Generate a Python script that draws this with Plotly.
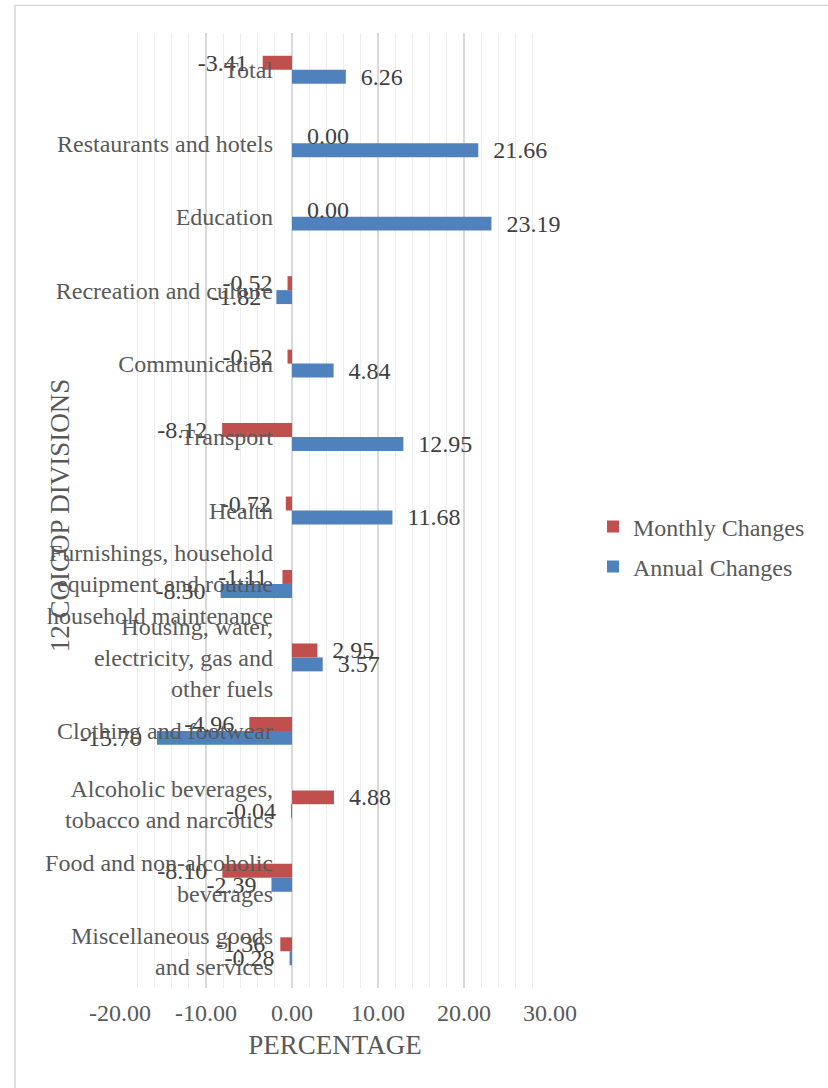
import plotly.graph_objects as go

# Categories listed bottom-to-top as they appear on the chart
categories = [
    "Miscellaneous goods<br>and services",
    "Food and non-alcoholic<br>beverages",
    "Alcoholic beverages,<br>tobacco and narcotics",
    "Clothing and footwear",
    "Housing, water,<br>electricity, gas and<br>other fuels",
    "Furnishings, household<br>equipment and routine<br>household maintenance",
    "Health",
    "Transport",
    "Communication",
    "Recreation and culture",
    "Education",
    "Restaurants and hotels",
    "Total",
]
monthly_changes = [-1.36, -8.10, 4.88, -4.96, 2.95, -1.11, -0.72, -8.12, -0.52, -0.52, 0.00, 0.00, -3.41]
annual_changes = [-0.28, -2.39, -0.04, -15.70, 3.57, -8.30, 11.68, 12.95, 4.84, -1.82, 23.19, 21.66, 6.26]
x_tick_values = [-20, -10, 0, 10, 20, 30]
x_tick_labels = ["-20.00", "-10.00", "0.00", "10.00", "20.00", "30.00"]

RED = "#C0504D"
BLUE = "#4F81BD"
FONT = "Liberation Serif"
PAD = "\u00a0\u00a0"


def label_texts(vals):
    return [f"{PAD}{v:.2f}" if v >= 0 else f"{v:.2f}{PAD}" for v in vals]


fig = go.Figure()
fig.add_trace(go.Bar(
    name="Annual Changes", y=categories, x=annual_changes, orientation="h",
    marker=dict(color=BLUE, line=dict(width=0)),
    text=label_texts(annual_changes), texttemplate="%{text}", textposition="outside",
    outsidetextfont=dict(family=FONT, size=24, color="#404040"),
    constraintext="none", cliponaxis=False, legendgroup="a", legendrank=2,
))
fig.add_trace(go.Bar(
    name="Monthly Changes", y=categories, x=monthly_changes, orientation="h",
    marker=dict(color=RED, line=dict(width=0)),
    text=label_texts(monthly_changes), texttemplate="%{text}", textposition="outside",
    outsidetextfont=dict(family=FONT, size=24, color="#404040"),
    constraintext="none", cliponaxis=False, legendgroup="m", legendrank=1,
))

fig.update_layout(
    width=828, height=1088, autosize=False,
    margin=dict(l=120, r=278, t=33, b=100, autoexpand=False),
    paper_bgcolor="white", plot_bgcolor="white",
    font=dict(family=FONT, size=24, color="#595959"),
    barmode="group", bargap=0.62, bargroupgap=0,
    showlegend=True,
    legend=dict(
        x=1.1, y=0.462, xanchor="left", yanchor="middle",
        traceorder="grouped", tracegroupgap=6,
        font=dict(family=FONT, size=24, color="#595959"),
        bgcolor="rgba(0,0,0,0)",
    ),
    xaxis=dict(
        range=[-20, 30], tickvals=x_tick_values, ticktext=x_tick_labels,
        showgrid=True, gridcolor="#D9D9D9", gridwidth=1.5,
        zeroline=True, zerolinecolor="#D9D9D9", zerolinewidth=1.5,
        minor=dict(dtick=2, showgrid=True, gridcolor="#EEEEEE", gridwidth=1, ticks=""),
        ticks="", showline=False, ticklabelstandoff=8,
        tickfont=dict(family=FONT, size=24, color="#595959"),
        title=dict(text="PERCENTAGE", font=dict(family=FONT, size=27, color="#595959"), standoff=10),
    ),
    yaxis=dict(
        type="category", categoryorder="array", categoryarray=categories,
        anchor="free", position=0.4, showgrid=False, zeroline=False, showline=False,
        ticks="", ticklabelstandoff=19,
        tickfont=dict(family=FONT, size=24, color="#595959"),
    ),
    annotations=[dict(
        text="12 COICOP DIVISIONS", textangle=-90, showarrow=False,
        xref="paper", yref="paper", x=-0.1395, y=0.495,
        xanchor="center", yanchor="middle",
        font=dict(family=FONT, size=27, color="#595959"),
    )],
    shapes=[dict(
        type="rect", xref="paper", yref="paper",
        x0=-0.244, x1=1.66, y0=-0.11, y1=1.029,
        line=dict(color="#D9D9D9", width=1.5), fillcolor="rgba(0,0,0,0)", layer="below",
    )],
)

fig.write_html("out.html")
